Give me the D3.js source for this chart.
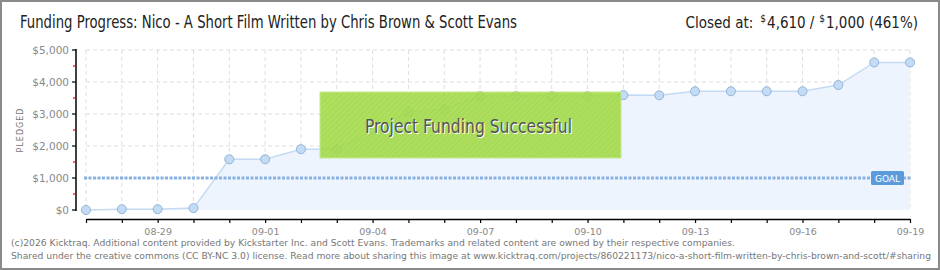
<!DOCTYPE html>
<html>
<head>
<meta charset="utf-8">
<script src="https://cdn.jsdelivr.net/npm/d3@7/dist/d3.min.js"></script>
<style>
  html, body { margin: 0; padding: 0; background: #fff; }
  svg { display: block; }
</style>
</head>
<body>
<svg id="chart" width="940" height="270"></svg>
<script>
// data
const days = ['08-27', '08-28', '08-29', '08-30', '08-31', '09-01', '09-02', '09-03',
  '09-04', '09-05', '09-06', '09-07', '09-08', '09-09', '09-10', '09-11', '09-12',
  '09-13', '09-14', '09-15', '09-16', '09-17', '09-18', '09-19'];
const pledged = [0, 25, 25, 60, 1585, 1585, 1900, 1900, 2500, 3060, 3145, 3560, 3560,
  3560, 3560, 3590, 3585, 3710, 3710, 3710, 3710, 3905, 4610, 4610];
const dayLabels = ['08-29', '09-01', '09-04', '09-07', '09-10', '09-13', '09-16', '09-19'];
const yTicks = [0, 1000, 2000, 3000, 4000, 5000];
const goal = 1000;

const svg = d3.select('#chart');
const W = 940, H = 270;
const titleFont = '"Liberation Sans Narrow", "DejaVu Sans Condensed", sans-serif';
const smallFont = '"DejaVu Sans", Verdana, sans-serif';

const x = d3.scalePoint().domain(days).range([86, 910]);
const y = d3.scaleLinear().domain([0, 5000]).range([210, 50]);

// frame
svg.append('rect')
  .attr('x', 1).attr('y', 1).attr('width', W - 2).attr('height', H - 2)
  .attr('fill', '#fff').attr('stroke', '#8a8a8a').attr('stroke-width', 2);

// header
svg.append('text')
  .attr('x', 20).attr('y', 28)
  .attr('font-family', titleFont).attr('font-size', 17).attr('fill', '#222')
  .attr('textLength', 497).attr('lengthAdjust', 'spacingAndGlyphs')
  .text('Funding Progress: Nico - A Short Film Written by Chris Brown & Scott Evans');

// "Closed at" line: pieces laid out right to left from measured widths
const hdr = svg.append('g').attr('font-family', titleFont).attr('fill', '#222');
const parts = [
  ['Closed at:', 15, 28, 7],
  ['$', 10, 22, 1],
  ['4,610', 15, 28, 4],
  ['/', 15, 28, 5],
  ['$', 10, 22, 1],
  ['1,000 (461%)', 15, 28, 0]
];
let cx = 918;
for (let i = parts.length - 1; i >= 0; i--) {
  const [txt, size, py, gap] = parts[i];
  const t = hdr.append('text').attr('y', py).attr('font-size', size).text(txt);
  const w = t.node().getComputedTextLength();
  cx -= w + gap;
  t.attr('x', cx);
}

// grid
const grid = svg.append('g').attr('stroke', '#dedede').attr('stroke-dasharray', '4,3');
grid.selectAll('line.v').data(days).join('line')
  .attr('x1', d => x(d)).attr('x2', d => x(d))
  .attr('y1', y(5000)).attr('y2', y(0));
grid.selectAll('line.h').data(yTicks.slice(1)).join('line')
  .attr('x1', x.range()[0]).attr('x2', x.range()[1])
  .attr('y1', d => y(d)).attr('y2', d => y(d));

// area + line
const pts = days.map((d, i) => [d, pledged[i]]);
svg.append('path').datum(pts)
  .attr('fill', '#edf4fd')
  .attr('d', d3.area().x(d => x(d[0])).y0(y(0)).y1(d => y(d[1])));
svg.append('path').datum(pts)
  .attr('fill', 'none').attr('stroke', '#c4daf3').attr('stroke-width', 1.5)
  .attr('d', d3.line().x(d => x(d[0])).y(d => y(d[1])));

// goal line
svg.append('line')
  .attr('x1', x.range()[0] - 2).attr('x2', x.range()[1] + 2)
  .attr('y1', y(goal)).attr('y2', y(goal))
  .attr('stroke', '#8ab2e0').attr('stroke-width', 3).attr('stroke-dasharray', '3,1.5');

// points
svg.append('g').selectAll('circle').data(pts).join('circle')
  .attr('cx', d => x(d[0])).attr('cy', d => y(d[1])).attr('r', 4.5)
  .attr('fill', '#c3dcf6').attr('stroke', '#94b3d8').attr('stroke-width', 1);

// goal badge
const gb = svg.append('g').attr('transform', `translate(${x.range()[1] - 39},${y(goal) - 7})`);
gb.append('rect').attr('width', 33).attr('height', 14).attr('rx', 1.5).attr('fill', '#5b9bdc');
gb.append('text').attr('x', 16.5).attr('y', 10.5).attr('text-anchor', 'middle')
  .attr('font-family', smallFont).attr('font-size', 9).attr('fill', '#fff').text('GOAL');

// y axis
const yAxis = svg.append('g').attr('transform', 'translate(76,0)');
yAxis.append('line').attr('y1', y(5000) - 1).attr('y2', y(0) + 1)
  .attr('stroke', '#000').attr('stroke-width', 1.5);
yAxis.selectAll('line.maj').data(yTicks).join('line')
  .attr('x1', -4).attr('x2', 0).attr('y1', d => y(d)).attr('y2', d => y(d))
  .attr('stroke', '#000').attr('stroke-width', 1.2);
yAxis.selectAll('line.min').data(yTicks.slice(1).map(d => d - 500)).join('line')
  .attr('x1', -3).attr('x2', 0).attr('y1', d => y(d)).attr('y2', d => y(d))
  .attr('stroke', '#e00').attr('stroke-width', 1.2);
yAxis.selectAll('text').data(yTicks).join('text')
  .attr('x', -7).attr('y', d => y(d) + 4).attr('text-anchor', 'end')
  .attr('font-family', smallFont).attr('font-size', 10.5).attr('fill', '#888')
  .text(d => '$' + d3.format(',')(d));
svg.append('text')
  .attr('transform', `translate(23,${y(2500)}) rotate(-90)`)
  .attr('text-anchor', 'middle').attr('letter-spacing', 1)
  .attr('font-family', smallFont).attr('font-size', 8).attr('fill', '#777')
  .text('PLEDGED');

// x axis
const xAxis = d3.axisBottom(x).tickSize(4).tickSizeOuter(0)
  .tickFormat(d => dayLabels.includes(d) ? d : '');
const gx = svg.append('g').attr('transform', 'translate(0,219)').call(xAxis);
gx.select('.domain').attr('stroke', '#000').attr('stroke-width', 1.5);
gx.selectAll('.tick line').attr('stroke', '#000').attr('stroke-width', 1.2);
gx.selectAll('.tick text').attr('font-family', smallFont).attr('font-size', 9.5)
  .attr('fill', '#888').attr('dy', '0.9em');

// success overlay
const defs = svg.append('defs');
const pat = defs.append('pattern').attr('id', 'hatch').attr('width', 4).attr('height', 4)
  .attr('patternUnits', 'userSpaceOnUse').attr('patternTransform', 'rotate(45)');
pat.append('rect').attr('width', 4).attr('height', 4).attr('fill', '#a6dc4c');
pat.append('line').attr('x1', 0).attr('x2', 0).attr('y1', 0).attr('y2', 4)
  .attr('stroke', '#9dd244').attr('stroke-width', 1.5);
svg.append('rect')
  .attr('x', 320).attr('y', 92).attr('width', 301).attr('height', 66)
  .attr('fill', 'url(#hatch)').attr('opacity', 0.9)
  .attr('stroke', '#c0e882').attr('stroke-width', 1);
svg.append('text')
  .attr('x', 366).attr('y', 134)
  .attr('font-family', titleFont).attr('font-size', 19).attr('fill', '#fff')
  .attr('textLength', 207).attr('lengthAdjust', 'spacingAndGlyphs')
  .text('Project Funding Successful');
svg.append('text')
  .attr('x', 365).attr('y', 133)
  .attr('font-family', titleFont).attr('font-size', 19).attr('fill', '#555')
  .attr('textLength', 207).attr('lengthAdjust', 'spacingAndGlyphs')
  .text('Project Funding Successful');

// footer
const foot = svg.append('g').attr('font-family', smallFont).attr('font-size', 9.2).attr('fill', '#777');
foot.append('text').attr('x', 11).attr('y', 246)
  .attr('textLength', 724).attr('lengthAdjust', 'spacingAndGlyphs')
  .text('(c)2026 Kicktraq. Additional content provided by Kickstarter Inc. and Scott Evans. Trademarks and related content are owned by their respective companies.');
foot.append('text').attr('x', 11).attr('y', 259)
  .attr('textLength', 920).attr('lengthAdjust', 'spacingAndGlyphs')
  .text('Shared under the creative commons (CC BY-NC 3.0) license. Read more about sharing this image at www.kicktraq.com/projects/860221173/nico-a-short-film-written-by-chris-brown-and-scott/#sharing');
</script>
</body>
</html>
